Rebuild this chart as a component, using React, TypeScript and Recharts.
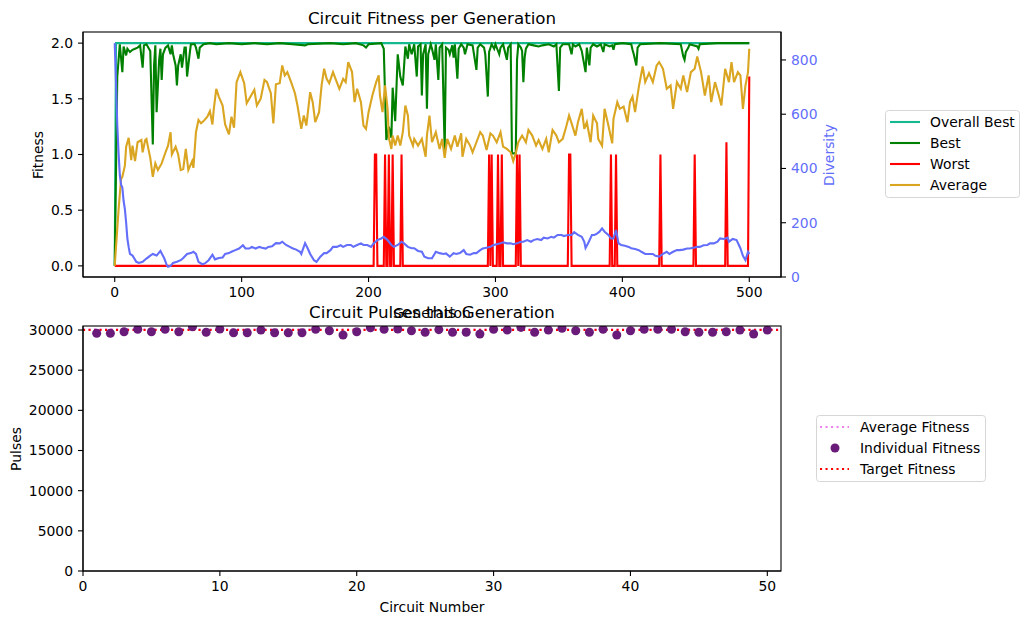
import React from 'react';
import { ComposedChart, Line, Scatter, XAxis, YAxis } from 'recharts';

const FONT = '"DejaVu Sans", sans-serif';
const BLUE = '#636efa';
const PURPLE = '#6a1b7a';

const generationTicks = [0, 100, 200, 300, 400, 500];
const fitnessTicks = [0, 0.5, 1, 1.5, 2];
const diversityTicks = [0, 200, 400, 600, 800];
const circuitTicks = [0, 10, 20, 30, 40, 50];
const pulseTicks = [0, 5000, 10000, 15000, 20000, 25000, 30000];

// [generation, value]
const overallBestPoints: [number, number][] = [[0, 0], [1, 2], [500, 2]];

const bestPoints: [number, number][] = [
  [0, 0], [2, 1.7], [4, 1.99], [6, 1.74], [7, 1.97], [9, 1.89], [10, 1.95], [12, 1.92], [14, 1.94], [16, 1.95],
  [18, 1.96], [20, 1.98], [22, 1.78], [23, 1.98], [25, 1.99], [28, 1.93], [30, 1.09], [31, 1.8], [32, 1.98], [33, 1.38],
  [35, 1.85], [36, 1.95], [37, 1.67], [38, 1.9], [40, 1.96], [42, 1.98], [44, 1.9], [45, 1.98], [46, 1.9], [48, 1.8],
  [49, 1.62], [50, 1.8], [52, 1.9], [53, 1.78], [55, 1.96], [56, 1.96], [57, 1.7], [59, 1.9], [60, 1.99], [63, 1.99],
  [64, 1.96], [66, 1.86], [67, 1.96], [70, 1.99], [75, 2], [80, 1.99], [90, 2], [100, 1.99], [110, 2], [120, 1.99],
  [130, 2], [140, 1.99], [150, 1.98], [152, 1.99], [170, 2], [180, 1.99], [190, 2], [196, 1.98], [198, 1.96], [200, 1.99],
  [210, 2], [212, 1.95], [214, 1.13], [216, 1.25], [218, 1.15], [219, 1.6], [221, 1.3], [223, 1.9], [225, 1.7], [227, 1.62],
  [229, 1.97], [231, 1.86], [232, 1.99], [234, 1.9], [236, 1.99], [238, 1.7], [239, 1.97], [241, 1.99], [242, 1.53], [243, 1.9],
  [245, 1.99], [246, 1.41], [247, 1.9], [249, 1.99], [250, 1.95], [252, 1.85], [253, 1.99], [255, 1.67], [256, 1.96], [258, 1.99],
  [260, 1.04], [261, 1.96], [263, 1.94], [264, 1.9], [266, 1.98], [267, 1.87], [268, 1.99], [270, 1.68], [271, 1.95], [273, 1.99],
  [275, 1.96], [276, 1.9], [278, 1.99], [282, 1.98], [285, 1.76], [286, 1.96], [288, 1.99], [291, 1.96], [292, 1.9], [294, 1.52],
  [295, 1.92], [297, 1.99], [299, 1.95], [300, 1.99], [303, 1.9], [304, 1.96], [306, 1.99], [309, 1.85], [310, 1.96], [312, 1.99],
  [313, 1.01], [316, 1.01], [317, 1.85], [318, 1.99], [320, 1.96], [321, 1.93], [322, 1.65], [323, 1.87], [324, 1.95], [326, 1.99],
  [330, 1.98], [334, 1.97], [337, 1.98], [342, 1.99], [346, 1.97], [348, 1.99], [350, 1.57], [351, 1.96], [353, 1.99], [358, 1.99],
  [360, 1.9], [361, 1.99], [363, 1.97], [366, 1.99], [368, 1.93], [371, 1.74], [372, 1.96], [374, 1.8], [375, 1.96], [377, 1.99],
  [380, 1.97], [383, 1.99], [385, 1.92], [386, 1.99], [390, 1.97], [392, 1.98], [393, 1.94], [394, 1.99], [400, 2], [407, 1.99],
  [408, 1.94], [409, 1.9], [411, 1.8], [412, 1.96], [414, 1.99], [430, 2], [446, 1.99], [448, 1.88], [449, 1.85], [450, 1.92],
  [452, 1.96], [453, 1.99], [459, 1.97], [460, 1.95], [461, 1.99], [475, 2], [490, 2], [500, 2],
];

const averagePoints: [number, number][] = [
  [0, 0], [3, 0.5], [5, 0.78], [6, 0.8], [8, 0.9], [9, 1.07], [11, 1.15], [12, 1.05], [13, 0.95], [14, 1.08],
  [16, 0.94], [18, 1.11], [21, 1.13], [22, 1.02], [24, 1.13], [25, 1.14], [26, 1.08], [28, 0.97], [30, 0.8], [32, 0.92],
  [34, 0.86], [37, 0.92], [40, 1.02], [42, 1.08], [44, 1.2], [45, 1.0], [48, 1.07], [50, 1.0], [52, 0.86], [54, 0.87],
  [56, 1.05], [58, 0.86], [61, 0.94], [62, 0.88], [64, 1.2], [66, 1.31], [68, 1.28], [70, 1.3], [73, 1.34], [75, 1.39],
  [77, 1.27], [78, 1.4], [80, 1.59], [82, 1.52], [85, 1.44], [87, 1.27], [90, 1.18], [92, 1.34], [94, 1.24], [96, 1.65],
  [99, 1.74], [102, 1.64], [104, 1.46], [107, 1.52], [110, 1.58], [112, 1.44], [115, 1.5], [118, 1.67], [120, 1.65], [123, 1.55],
  [125, 1.28], [127, 1.63], [130, 1.64], [132, 1.8], [134, 1.71], [136, 1.74], [139, 1.65], [142, 1.55], [144, 1.44], [147, 1.23],
  [149, 1.35], [151, 1.26], [154, 1.56], [156, 1.47], [158, 1.29], [161, 1.38], [163, 1.62], [165, 1.77], [167, 1.68], [169, 1.64],
  [172, 1.74], [174, 1.68], [177, 1.59], [180, 1.68], [182, 1.65], [184, 1.83], [187, 1.74], [189, 1.47], [191, 1.59], [194, 1.47],
  [196, 1.26], [198, 1.23], [200, 1.38], [203, 1.53], [206, 1.65], [208, 1.71], [209, 1.53], [211, 1.38], [213, 1.62], [215, 1.41],
  [216, 1.15], [218, 1.05], [219, 1.17], [221, 1.08], [223, 1.17], [225, 1.08], [227, 1.2], [229, 1.44], [231, 1.35], [232, 1.17],
  [235, 1.08], [236, 1.14], [239, 1.08], [242, 1.14], [245, 0.98], [246, 1.17], [248, 1.35], [250, 1.11], [253, 1.2], [256, 1.05],
  [258, 1.14], [260, 0.97], [262, 1.14], [265, 1.05], [268, 1.17], [270, 1.07], [273, 1.19], [274, 0.98], [277, 1.14], [280, 1.08],
  [282, 1.02], [285, 1.11], [288, 1.2], [290, 1.17], [293, 1.04], [296, 1.19], [298, 1.17], [301, 1.11], [304, 1.2], [306, 1.07],
  [309, 1.05], [312, 1.02], [314, 0.94], [316, 1.01], [318, 1.11], [321, 1.17], [324, 1.11], [326, 1.22], [329, 1.17], [332, 1.08],
  [334, 1.13], [337, 1.05], [340, 1.14], [342, 1.02], [345, 1.22], [348, 1.17], [350, 1.11], [353, 1.14], [356, 1.26], [358, 1.35],
  [360, 1.28], [363, 1.17], [365, 1.29], [368, 1.41], [370, 1.23], [372, 1.29], [375, 1.11], [377, 1.35], [380, 1.28], [381, 1.14],
  [384, 1.08], [386, 1.41], [389, 1.26], [392, 1.1], [393, 1.32], [396, 1.47], [398, 1.41], [401, 1.43], [404, 1.29], [406, 1.47],
  [408, 1.52], [410, 1.38], [413, 1.61], [416, 1.79], [418, 1.65], [421, 1.73], [424, 1.65], [427, 1.8], [429, 1.83], [432, 1.77],
  [435, 1.59], [438, 1.62], [440, 1.41], [443, 1.65], [446, 1.59], [448, 1.71], [451, 1.56], [454, 1.74], [457, 1.77], [459, 1.88],
  [462, 1.74], [465, 1.53], [468, 1.71], [470, 1.47], [473, 1.65], [476, 1.53], [478, 1.44], [481, 1.77], [484, 1.65], [486, 1.83],
  [488, 1.65], [491, 1.74], [493, 1.71], [495, 1.41], [497, 1.62], [499, 1.74], [500, 1.95],
];

// worst is 0 except at these generations
const worstSpikes: [number, number][] = [
  [205, 1], [206, 1], [213, 1], [216, 1], [219, 1], [226, 1], [295, 1], [297, 1], [302, 1], [305, 1],
  [317, 1], [319, 1], [358, 1], [359, 1], [391, 1], [395, 1], [430, 1], [457, 1], [482, 1.11], [500, 1.7],
];

const diversityPoints: [number, number][] = [
  [0, 862], [1, 720], [2, 560], [3, 460], [4, 376], [5, 340], [6, 330], [7, 280], [8, 250], [9, 200],
  [10, 140], [11, 110], [12, 85], [14, 79], [17, 56], [19, 52], [22, 56], [25, 68], [28, 79], [30, 85],
  [33, 79], [36, 96], [39, 69], [41, 44], [42, 38], [44, 41], [46, 52], [49, 56], [52, 62], [54, 70],
  [57, 85], [60, 88], [62, 93], [64, 85], [66, 56], [69, 47], [71, 50], [74, 62], [77, 82], [79, 65],
  [82, 70], [85, 72], [87, 85], [90, 88], [92, 93], [95, 99], [98, 105], [101, 117], [103, 105], [106, 105],
  [108, 111], [111, 105], [114, 111], [116, 108], [119, 105], [121, 111], [124, 113], [127, 125], [130, 124], [132, 130],
  [135, 118], [138, 111], [140, 106], [143, 101], [146, 93], [147, 85], [150, 125], [152, 106], [154, 85], [157, 62],
  [159, 56], [162, 75], [165, 88], [167, 88], [170, 99], [172, 111], [175, 111], [178, 117], [180, 111], [183, 118],
  [186, 118], [188, 111], [191, 118], [194, 124], [196, 118], [199, 118], [202, 111], [204, 124], [207, 136], [210, 142],
  [212, 148], [215, 136], [218, 118], [220, 111], [223, 118], [226, 130], [228, 124], [231, 111], [234, 106], [236, 106],
  [239, 96], [242, 93], [244, 75], [247, 69], [250, 69], [252, 85], [253, 93], [256, 88], [259, 85], [261, 87],
  [264, 75], [267, 88], [269, 85], [272, 88], [275, 99], [277, 85], [280, 82], [283, 88], [285, 88], [288, 99],
  [290, 105], [293, 108], [296, 111], [298, 117], [301, 121], [304, 124], [306, 128], [309, 124], [312, 124], [314, 121],
  [317, 124], [320, 130], [322, 130], [325, 136], [328, 130], [330, 136], [333, 140], [336, 136], [338, 145], [341, 142],
  [344, 148], [346, 145], [349, 155], [352, 155], [354, 151], [357, 155], [360, 155], [362, 165], [365, 155], [368, 148],
  [370, 130], [371, 107], [373, 124], [376, 155], [378, 155], [380, 160], [382, 167], [384, 179], [386, 167], [389, 155],
  [391, 142], [393, 142], [395, 173], [397, 124], [399, 118], [402, 115], [405, 111], [407, 106], [410, 103], [413, 99],
  [415, 93], [418, 85], [421, 85], [424, 85], [426, 78], [429, 75], [432, 85], [435, 93], [437, 85], [440, 93],
  [443, 99], [445, 99], [448, 101], [451, 105], [453, 105], [456, 108], [459, 111], [461, 111], [464, 117], [467, 118],
  [469, 124], [472, 124], [475, 130], [477, 142], [480, 140], [483, 145], [484, 130], [487, 140], [490, 136], [493, 106],
  [495, 78], [497, 62], [499, 93], [500, 85],
];

// pulses of circuits 1..50
const circuitPulses = [
  29590, 29590, 29790, 30090, 29790, 30090, 29790, 30410, 29715, 30125,
  29665, 29665, 30000, 29665, 29665, 29665, 30090, 29915, 29380, 29790,
  30290, 30090, 30125, 29915, 29715, 30050, 29715, 29715, 29500, 30090,
  30000, 30330, 29715, 30000, 30210, 29915, 29715, 30090, 29380, 29915,
  30090, 30090, 30090, 29790, 29715, 29715, 29790, 30000, 29500, 30000,
];
const averageFitness = 30100;
const targetFitness = 30000;

const toRows = (pts: [number, number][]) => pts.map(([gen, v]) => ({ gen, v }));

const worstRows = Array.from({ length: 501 }, (_, gen) => ({ gen, v: 0 }));
worstSpikes.forEach(([gen, v]) => {
  worstRows[gen].v = v;
});

const pulseRows = circuitPulses.map((y, i) => ({ x: i + 1, y }));
const averageRows = [{ x: 0, y: averageFitness }, { x: 51, y: averageFitness }];
const targetRows = [{ x: 0, y: targetFitness }, { x: 51, y: targetFitness }];

const tickStyle = { fontSize: 13.9, fill: '#000', fontFamily: FONT };
const axisStroke = { stroke: '#000', strokeWidth: 1.1 };

const fitnessLegend = [
  { name: 'Overall Best', color: '#14b990' },
  { name: 'Best', color: '#008000' },
  { name: 'Worst', color: '#ff0000' },
  { name: 'Average', color: '#daa520' },
];

export default function App() {
  return (
    <div style={{ position: 'absolute', left: 0, top: 0, width: 1030, height: 624, background: '#fff', fontFamily: FONT }}>
      <div style={{ position: 'absolute', left: 0, top: 0 }}>
        <ComposedChart width={1030} height={310} margin={{ top: 32, right: 189, bottom: 3, left: 0 }}>
          <XAxis
            xAxisId="gen"
            dataKey="gen"
            type="number"
            domain={[-25, 525]}
            ticks={generationTicks}
            height={30}
            tickSize={5}
            tickMargin={5}
            tick={tickStyle}
            axisLine={axisStroke}
            tickLine={axisStroke}
          />
          <YAxis
            yAxisId="fit"
            type="number"
            domain={[-0.1, 2.1]}
            ticks={fitnessTicks}
            width={83}
            tickSize={5}
            tickMargin={5}
            tick={tickStyle}
            tickFormatter={(v: number) => v.toFixed(1)}
            axisLine={axisStroke}
            tickLine={axisStroke}
          />
          <YAxis
            yAxisId="div"
            orientation="right"
            type="number"
            domain={[0, 903]}
            ticks={diversityTicks}
            width={60}
            tickSize={5}
            tickMargin={5}
            tick={{ ...tickStyle, fill: BLUE }}
            axisLine={axisStroke}
            tickLine={axisStroke}
          />
          <Line xAxisId="gen" yAxisId="fit" data={toRows(overallBestPoints)} dataKey="v" stroke="#14b990" strokeWidth={2.1} dot={false} activeDot={false} isAnimationActive={false} />
          <Line xAxisId="gen" yAxisId="fit" data={toRows(bestPoints)} dataKey="v" stroke="#008000" strokeWidth={2.1} dot={false} activeDot={false} isAnimationActive={false} />
          <Line xAxisId="gen" yAxisId="fit" data={worstRows} dataKey="v" stroke="#ff0000" strokeWidth={2.1} dot={false} activeDot={false} isAnimationActive={false} />
          <Line xAxisId="gen" yAxisId="fit" data={toRows(averagePoints)} dataKey="v" stroke="#daa520" strokeWidth={2.1} dot={false} activeDot={false} isAnimationActive={false} />
          <Line xAxisId="gen" yAxisId="div" data={toRows(diversityPoints)} dataKey="v" stroke={BLUE} strokeWidth={2.1} dot={false} activeDot={false} isAnimationActive={false} />
        </ComposedChart>
      </div>

      <div style={{ position: 'absolute', left: 0, top: 300 }}>
        <ComposedChart width={1030} height={310} margin={{ top: 26, right: 249, bottom: 9, left: 0 }}>
          <XAxis
            xAxisId="c"
            dataKey="x"
            type="number"
            domain={[0, 51]}
            ticks={circuitTicks}
            height={30}
            tickSize={5}
            tickMargin={5}
            tick={tickStyle}
            axisLine={axisStroke}
            tickLine={axisStroke}
          />
          <YAxis
            yAxisId="p"
            dataKey="y"
            type="number"
            domain={[0, 30500]}
            allowDataOverflow
            ticks={pulseTicks}
            width={83}
            tickSize={5}
            tickMargin={5}
            tick={tickStyle}
            axisLine={axisStroke}
            tickLine={axisStroke}
          />
          <Line xAxisId="c" yAxisId="p" data={averageRows} dataKey="y" stroke="#ee82ee" strokeWidth={2.1} strokeDasharray="2.1 3.4" dot={false} activeDot={false} isAnimationActive={false} />
          <Scatter xAxisId="c" yAxisId="p" data={pulseRows} dataKey="y" fill={PURPLE} isAnimationActive={false} />
          <Line xAxisId="c" yAxisId="p" data={targetRows} dataKey="y" stroke="#ff0000" strokeWidth={2.1} strokeDasharray="2.1 3.4" dot={false} activeDot={false} isAnimationActive={false} />
        </ComposedChart>
      </div>

      <svg width={1030} height={624} style={{ position: 'absolute', left: 0, top: 0, pointerEvents: 'none' }} fontFamily={FONT}>
        {/* axes frames (matplotlib spines) */}
        <rect x={83} y={32} width={698} height={245} fill="none" stroke="#000" strokeWidth={1.1} />
        <rect x={83} y={326} width={698} height={245} fill="none" stroke="#000" strokeWidth={1.1} />

        <text x={432} y={18} fontSize={16.7} textAnchor="middle" dominantBaseline="central">Circuit Fitness per Generation</text>
        <text x={432} y={313} fontSize={13.9} textAnchor="middle" dominantBaseline="central">Generation</text>
        <text x={38} y={155} fontSize={13.9} textAnchor="middle" dominantBaseline="central" transform="rotate(-90 38 155)">Fitness</text>
        <text x={829} y={155} fontSize={13.9} fill={BLUE} textAnchor="middle" dominantBaseline="central" transform="rotate(-90 829 155)">Diversity</text>
        <text x={432} y={312} fontSize={16.7} textAnchor="middle" dominantBaseline="central">Circuit Pulses this Generation</text>
        <text x={16} y={449} fontSize={13.9} textAnchor="middle" dominantBaseline="central" transform="rotate(-90 16 449)">Pulses</text>
        <text x={432} y={607} fontSize={13.9} textAnchor="middle" dominantBaseline="central">Circuit Number</text>

        <rect x={885.5} y={110.5} width={134} height={87} rx={3} fill="#fff" fillOpacity={0.8} stroke="#d6d6d6" />
        {fitnessLegend.map((item, i) => (
          <g key={item.name}>
            <line x1={890} x2={920} y1={122 + i * 21} y2={122 + i * 21} stroke={item.color} strokeWidth={2.1} />
            <text x={930} y={122 + i * 21} fontSize={13.9} dominantBaseline="central">{item.name}</text>
          </g>
        ))}

        <rect x={816.5} y={415.5} width={169} height={66} rx={3} fill="#fff" fillOpacity={0.8} stroke="#d6d6d6" />
        <line x1={820} x2={849} y1={427} y2={427} stroke="#ee82ee" strokeWidth={2.1} strokeDasharray="2.1 3.4" />
        <text x={860} y={427} fontSize={13.9} dominantBaseline="central">Average Fitness</text>
        <circle cx={835} cy={448} r={4.5} fill={PURPLE} />
        <text x={860} y={448} fontSize={13.9} dominantBaseline="central">Individual Fitness</text>
        <line x1={820} x2={849} y1={469} y2={469} stroke="#ff0000" strokeWidth={2.1} strokeDasharray="2.1 3.4" />
        <text x={860} y={469} fontSize={13.9} dominantBaseline="central">Target Fitness</text>
      </svg>
    </div>
  );
}
